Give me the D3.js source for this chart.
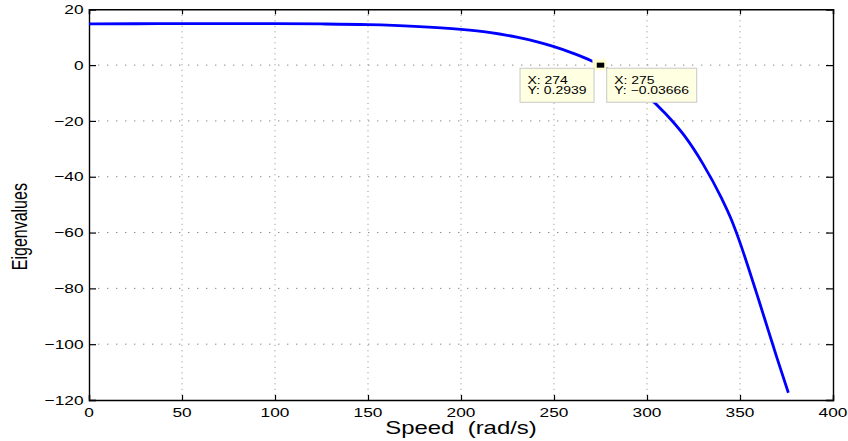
<!DOCTYPE html>
<html>
<head>
<meta charset="utf-8">
<script src="https://cdn.jsdelivr.net/npm/d3@7"></script>
<style>
  html, body { margin: 0; padding: 0; background: #fff; }
  svg text { font-family: "Liberation Sans", Arial, Helvetica, sans-serif; fill: #000; }
</style>
</head>
<body>
<svg id="chart" width="848" height="441"></svg>
<script>
// Eigenvalue vs rotor speed
const speed = [0, 25, 50, 75, 100, 125, 150, 175, 200, 215, 230, 240, 250, 260, 270, 274, 275, 280, 290, 300, 310, 320, 330, 340, 345, 350, 355, 360, 365, 370, 376];
const eigen = [14.8, 14.82, 14.85, 14.87, 14.85, 14.75, 14.5, 13.9, 12.8, 11.7, 10.0, 8.5, 6.6, 4.3, 1.6, 0.2939, -0.03666, -2.0, -6.0, -11.0, -17.4, -25.2, -35.3, -47.6, -54.8, -63.6, -73.6, -84.0, -94.6, -105.2, -117.4];

const xTicks = [0, 50, 100, 150, 200, 250, 300, 350, 400];
const yTicks = [20, 0, -20, -40, -60, -80, -100, -120];

// data tips
const tipX = [274, 275];
const tipY = [0.2939, -0.03666];

const W = 848, H = 441;
const margin = { left: 89, right: 15, top: 9.3, bottom: 41 };
const sx = 1.33; // horizontal text stretch

const svg = d3.select("#chart");
const x = d3.scaleLinear().domain([0, 400]).range([margin.left, W - margin.right]);
const y = d3.scaleLinear().domain([-120, 20]).range([H - margin.bottom, margin.top]);
const fmt = v => (v < 0 ? "\u2212" + Math.abs(v) : String(v));

// grid
const grid = svg.append("g");
grid.selectAll("line.v").data(xTicks.slice(1, -1)).join("line")
  .attr("x1", d => x(d)).attr("x2", d => x(d))
  .attr("y1", y(20)).attr("y2", y(-120))
  .attr("stroke", "#8a8a8a").attr("stroke-width", 1).attr("stroke-dasharray", "1,4.5");
grid.selectAll("line.h").data(yTicks.slice(1, -1)).join("line")
  .attr("x1", x(0)).attr("x2", x(400))
  .attr("y1", d => y(d)).attr("y2", d => y(d))
  .attr("stroke", "#8a8a8a").attr("stroke-width", 1).attr("stroke-dasharray", "1.4,7.6");

// axes with inward ticks on all sides
const axB = d3.axisBottom(x).tickValues(xTicks).tickSize(-5).tickFormat("");
const axT = d3.axisTop(x).tickValues(xTicks).tickSize(-5).tickFormat("");
const axL = d3.axisLeft(y).tickValues(yTicks).tickSize(-7).tickFormat("");
const axR = d3.axisRight(y).tickValues(yTicks).tickSize(-7).tickFormat("");
[[axB, `translate(0,${y(-120)})`], [axT, `translate(0,${y(20)})`],
 [axL, `translate(${x(0)},0)`], [axR, `translate(${x(400)},0)`]].forEach(([ax, tr]) => {
  const g = svg.append("g").attr("transform", tr).call(ax);
  g.select(".domain").attr("stroke", "#000").attr("stroke-width", 1.4);
  g.selectAll(".tick line").attr("stroke", "#000").attr("stroke-width", 1.2);
});

// tick labels
svg.append("g").selectAll("text").data(xTicks).join("text")
  .attr("transform", d => `translate(${x(d)},${y(-120) + 16.5}) scale(${sx},1)`)
  .attr("text-anchor", "middle").attr("font-size", 13).text(fmt);
svg.append("g").selectAll("text").data(yTicks).join("text")
  .attr("transform", d => `translate(${x(0) - 5.5},${y(d) + 4.7}) scale(${sx},1)`)
  .attr("text-anchor", "end").attr("font-size", 13).text(fmt);

// axis titles
svg.append("text")
  .attr("transform", `translate(${(x(0) + x(400)) / 2},434.3) scale(${sx},1)`)
  .attr("text-anchor", "middle").attr("font-size", 18)
  .attr("xml:space", "preserve").text("Speed  (rad/s)");
svg.append("text")
  .attr("transform", `translate(27.3,${(y(20) + y(-120)) / 2 + 22}) scale(${sx},1) rotate(-90)`)
  .attr("text-anchor", "middle").attr("font-size", 16).text("Eigenvalues");

// curve
svg.append("path")
  .datum(speed.map((s, i) => [s, eigen[i]]))
  .attr("fill", "none").attr("stroke", "#0000ff").attr("stroke-width", 2.8)
  .attr("stroke-linejoin", "round")
  .attr("d", d3.line().x(d => x(d[0])).y(d => y(d[1])).curve(d3.curveMonotoneX));

// data tip markers
svg.append("g").selectAll("rect").data(tipX).join("rect")
  .attr("x", (d, i) => x(d) - 5).attr("y", (d, i) => y(tipY[i]) - 3.8)
  .attr("width", 10).attr("height", 7.5)
  .attr("fill", "#000").attr("stroke", "#ffffd0").attr("stroke-width", 2.5);

// data tip boxes
const tips = [
  { w: 74, h: 34, dx: -78.6, dy: 4 },
  { w: 90, h: 34, dx: 6.2, dy: 3 }
];
tipX.forEach((tx, i) => {
  const t = tips[i];
  const bx = x(tx) + t.dx, by = y(tipY[i]) + t.dy;
  const g = svg.append("g");
  g.append("rect").attr("x", bx).attr("y", by).attr("width", t.w).attr("height", t.h)
    .attr("fill", "#ffffe1").attr("stroke", "#c8c8c8").attr("stroke-width", 1);
  g.append("text").attr("transform", `translate(${bx + 7.5},${by + 15.5}) scale(${sx},1)`)
    .attr("font-size", 10.5).text("X: " + tx);
  g.append("text").attr("transform", `translate(${bx + 7.5},${by + 26}) scale(${sx},1)`)
    .attr("font-size", 10.5).text("Y: " + fmt(tipY[i]));
});
</script>
</body>
</html>
